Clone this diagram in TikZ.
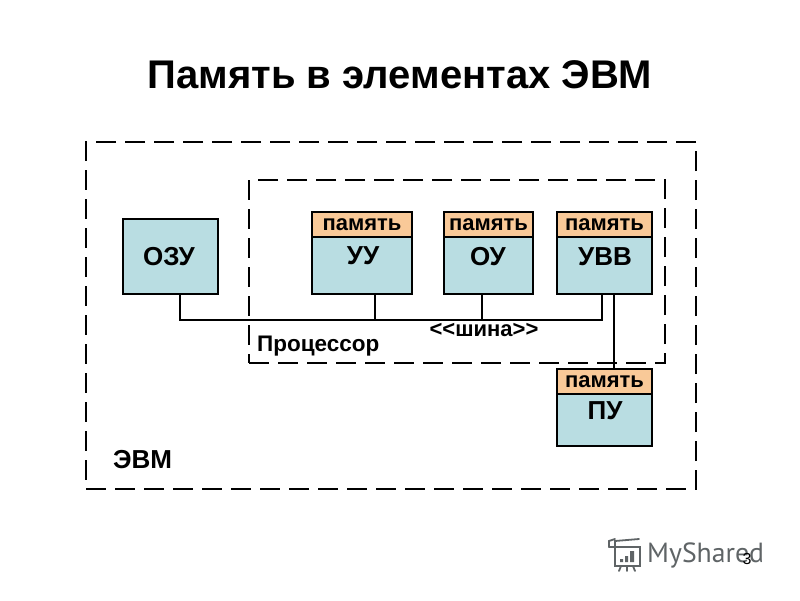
\documentclass[tikz,border=0pt]{standalone}
\usepackage{fontspec}
\setmainfont{Liberation Sans}
\newfontfamily\logofont{PT Sans}
\definecolor{bodyblue}{HTML}{B9DDE2}
\definecolor{headorange}{HTML}{F9C998}
\definecolor{logogray}{HTML}{5F6466}
\tikzset{
  bodybox/.style={draw=black,line width=2.8pt,fill=bodyblue,minimum width=#1,inner sep=0pt,outer sep=0pt,anchor=north west},
  headbox/.style={draw=black,line width=2.8pt,fill=headorange,minimum width=#1,minimum height=25pt,inner sep=0pt,outer sep=0pt,anchor=north west,font=\bfseries\fontsize{22}{22}\selectfont},
  boxlabel/.style={font=\bfseries\fontsize{26}{26}\selectfont,inner sep=0pt},
  plainlabel/.style={font=\bfseries\fontsize{22.5}{22.5}\selectfont,inner sep=0pt,anchor=base west},
  frame/.style={draw=black,line width=2.8pt,dash pattern=on 20pt off 9pt,inner sep=0pt,outer sep=0pt,anchor=north west},
  wire/.style={draw=black,line width=2.6pt},
  logoline/.style={draw=logogray,line width=1.8pt,line cap=round}
}
\begin{document}
\begin{tikzpicture}[x=1pt,y=-1pt]
\useasboundingbox (0,0) rectangle (800,600);
\fill[white] (0,0) rectangle (800,600);
\node[font=\bfseries\fontsize{40}{40}\selectfont,inner sep=0pt] (title) at (400,75) {Память в элементах ЭВМ};
% frames
\node[frame,minimum width=610pt,minimum height=347pt] (evm) at (86,142) {};
\node[frame,minimum width=416pt,minimum height=183pt] (cpu) at (249,180) {};
% boxes
\node[bodybox=95pt,minimum height=75pt] (ozu) at (123,219) {};
\node[boxlabel] (ozut) at (169,257) {ОЗУ};
\node[bodybox=100pt,minimum height=57pt] (uu) at (312,237) {};
\node[headbox=100pt] (uuh) at (312,212) {память};
\node[boxlabel] (uut) at (363,256) {УУ};
\node[bodybox=89pt,minimum height=57pt] (ou) at (444,237) {};
\node[headbox=89pt] (ouh) at (444,212) {память};
\node[boxlabel] (out) at (488,257) {ОУ};
\node[bodybox=95pt,minimum height=57pt] (uvv) at (557,237) {};
\node[headbox=95pt] (uvvh) at (557,212) {память};
\node[boxlabel] (uvvt) at (605,257) {УВВ};
\node[bodybox=95pt,minimum height=52pt] (pu) at (557,394) {};
\node[headbox=95pt] (puh) at (557,369) {память};
\node[boxlabel] (put) at (605,411) {ПУ};
% connector ends
\coordinate (ozuout) at (180,294);
\coordinate (uuout) at (375,294);
\coordinate (ouout) at (482,294);
\coordinate (uvvout) at (602,294);
\coordinate (uvvpu) at (614,294);
\coordinate (puin) at (614,369);
\draw[wire,line join=miter] (ozuout) |- (320,320) -| (uvvout);
\coordinate (uujoin) at (375,320);
\coordinate (oujoin) at (482,320);
\draw[wire] (uuout) -- (uujoin);
\draw[wire] (ouout) -- (oujoin);
\draw[wire] (uvvpu) -- (puin);
% labels
\node[font=\bfseries\fontsize{22}{22}\selectfont,inner sep=0pt] (bus) at (484,330) {<{}<шина>{}>};
\node[plainlabel] (cpul) at (257,351) {Процессор};
\node[font=\bfseries\fontsize{26}{26}\selectfont,inner sep=0pt,anchor=base west] (evml) at (113,468) {ЭВМ};
% logo
\node[font=\logofont\fontsize{27.7}{27.7}\selectfont,text=logogray,inner sep=0pt,anchor=base west] (logo) at (647,562) {MyShared};
\draw[logoline] (609,547) -- (640,547) -- (640,566) -- (615,566) -- (615,541) -- (639,539);
\draw[logoline] (609,547) -- (609,541) -- (615,539);
\draw[logoline] (621,566) -- (619,571) (627,566) -- (627,571) (633,566) -- (635,571);
\fill[logogray] (620,559) rectangle (623,562) (625,556) rectangle (628,562) (630,551) rectangle (634,562);
\node[font=\fontsize{16}{16}\selectfont,inner sep=0pt] (pagenum) at (747,559) {3};
\end{tikzpicture}
\end{document}
